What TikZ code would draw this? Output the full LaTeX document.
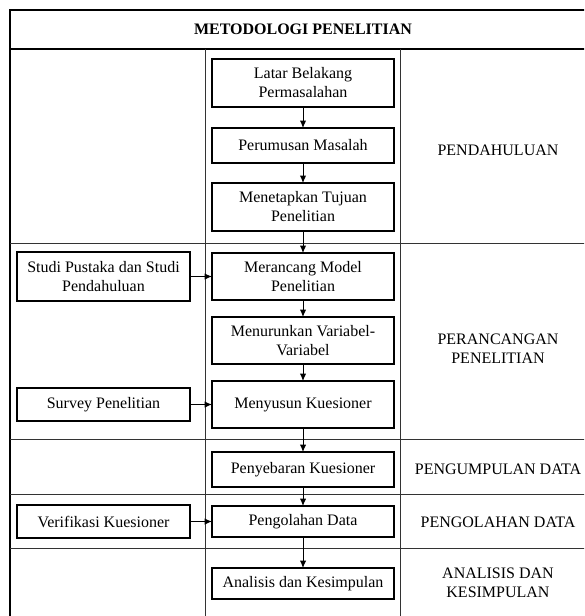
\documentclass[tikz,border=0pt]{standalone}
\usepackage{fontspec}
\setmainfont{Liberation Serif}
\usetikzlibrary{arrows.meta,positioning}
\tikzset{
	stepbox/.style={
		rectangle, draw=black, line width=1.6pt, minimum width=182pt, minimum height=47pt,
		align=center, inner sep=2pt, outer sep=0pt, font=\fontsize{16}{19}\selectfont
	},
	%
	sidebox/.style={
		stepbox, minimum width=173pt, minimum height=33pt
	},
	%
	phase/.style={
		align=center, font=\fontsize{16}{19}\selectfont
	},
	%
	flow/.style={
		-{Latex[length=7.5pt,width=6.5pt]}, line width=1pt
	},
	%
	tableline/.style={
		line width=0.9pt, draw=black!80
	}
}
\begin{document}
\begin{tikzpicture}[x=1pt, y=-1pt]
    \clip (0,0) rectangle (584,616);
    \draw[line width=1.5pt] (10,10) rectangle (596,618);
    \draw[line width=1.5pt] (10,49) -- (596,49);
    \draw[tableline] (205,49) -- (205,618);
    \draw[tableline] (400,49) -- (400,618);
    \foreach \y in {243,439,494,548} \draw[tableline] (10,\y) -- (596,\y);
    \node(title)[phase, font=\fontsize{16}{19}\selectfont\bfseries] at (303,29.5){METODOLOGI PENELITIAN};
    \node(latar)[stepbox, minimum height=48pt] at (303,83){Latar Belakang\\Permasalahan};
    \node(rumusan)[stepbox, minimum height=35pt, below=21pt of latar]{Perumusan Masalah};
    \node(tujuan)[stepbox, minimum height=48pt, below=20pt of rumusan]{Menetapkan Tujuan\\Penelitian};
    \node(model)[stepbox, below=22pt of tujuan]{Merancang Model\\Penelitian};
    \node(variabel)[stepbox, below=17pt of model]{Menurunkan Variabel-\\Variabel};
    \node(kuesioner)[stepbox, below=17pt of variabel]{Menyusun Kuesioner};
    \node(sebar)[stepbox, minimum height=35pt, below=24pt of kuesioner]{Penyebaran Kuesioner};
    \node(olah)[stepbox, minimum height=31pt, below=19pt of sebar]{Pengolahan Data};
    \node(analisis)[stepbox, minimum height=31pt, below=31pt of olah]{Analisis dan Kesimpulan};
    \node(pustaka)[sidebox, minimum height=49pt, left=22pt of model]{Studi Pustaka dan Studi\\Pendahuluan};
    \node(survey)[sidebox, left=22pt of kuesioner]{Survey Penelitian};
    \node(verifikasi)[sidebox, left=22pt of olah]{Verifikasi Kuesioner};
    \node(pendahuluan)[phase] at (498,150){PENDAHULUAN};
    \node(perancangan)[phase] at (498,349){PERANCANGAN\\PENELITIAN};
    \node(pengumpulan)[phase] at (498,469){PENGUMPULAN DATA};
    \node(pengolahan)[phase] at (498,522){PENGOLAHAN DATA};
    \node(kesimpulan)[phase] at (498,583){ANALISIS DAN\\KESIMPULAN};
    \draw[flow] (latar) -- (rumusan);
    \draw[flow] (rumusan) -- (tujuan);
    \draw[flow] (tujuan) -- (model);
    \draw[flow] (model) -- (variabel);
    \draw[flow] (variabel) -- (kuesioner);
    \draw[flow] (kuesioner) -- (sebar);
    \draw[flow] (sebar) -- (olah);
    \draw[flow] (olah) -- (analisis);
    \draw[flow] (pustaka) -- (model);
    \draw[flow] (survey) -- (kuesioner);
    \draw[flow] (verifikasi) -- (olah);
\end{tikzpicture}
\end{document}
